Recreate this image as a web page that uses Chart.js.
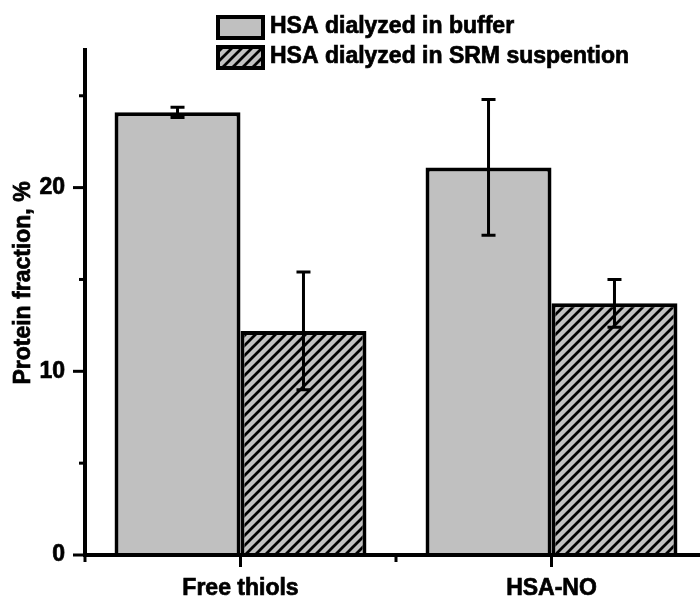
<!DOCTYPE html>
<html>
<head>
<meta charset="utf-8">
<script src="https://cdn.jsdelivr.net/npm/chart.js@4/dist/chart.umd.min.js"></script>
<style>
  html, body { margin: 0; padding: 0; background: #fff; overflow: hidden; }
  #wrap { width: 700px; height: 597px; overflow: hidden; }
</style>
</head>
<body>
<div id="wrap"><canvas id="chart" width="710" height="597"></canvas></div>
<script>
// data
const categories = ['Free thiols', 'HSA-NO'];
const seriesNames = ['HSA dialyzed in buffer', 'HSA dialyzed in SRM suspention'];
const bufferValues = [24.1, 21.1];
const bufferErrors = [0.28, 3.7];
const srmValues = [12.2, 13.7];
const srmErrors = [3.2, 1.3];
const yMajorTicks = [0, 10, 20];
const yMinorTicks = [5, 15, 25];

const FAMILY = '"Liberation Sans", Arial, sans-serif';
const FONT = 'bold 23px ' + FAMILY;

function makeHatch() {
  const c = document.createElement('canvas');
  c.width = 10; c.height = 10;
  const g = c.getContext('2d');
  g.fillStyle = '#c0c0c0';
  g.fillRect(0, 0, 10, 10);
  g.strokeStyle = '#000';
  g.lineWidth = 2.8;
  g.beginPath();
  g.moveTo(-2, 12); g.lineTo(12, -2);
  g.moveTo(-7, 7); g.lineTo(7, -7);
  g.moveTo(3, 17); g.lineTo(17, 3);
  g.stroke();
  return c;
}

const ctx = document.getElementById('chart').getContext('2d');
const hatch = ctx.createPattern(makeHatch(), 'repeat');

const errors = [bufferErrors, srmErrors];

function boldText(c, s, x, y) {
  c.fillText(s, x, y);
  c.lineWidth = 0.7;
  c.strokeText(s, x, y);
}

const extrasPlugin = {
  id: 'extras',
  afterDatasetsDraw(chart) {
    const c = chart.ctx;
    const y = chart.scales.y, x = chart.scales.x;
    const area = chart.chartArea;
    c.save();
    c.strokeStyle = '#000';
    c.lineWidth = 3;
    // error bars
    chart.data.datasets.forEach((ds, di) => {
      const meta = chart.getDatasetMeta(di);
      meta.data.forEach((bar, i) => {
        const v = ds.data[i], e = errors[di][i];
        const top = y.getPixelForValue(v + e), bot = y.getPixelForValue(v - e);
        c.beginPath();
        c.moveTo(bar.x, top); c.lineTo(bar.x, bot);
        c.moveTo(bar.x - 7, top); c.lineTo(bar.x + 7, top);
        c.moveTo(bar.x - 7, bot); c.lineTo(bar.x + 7, bot);
        c.stroke();
      });
    });
    // y ticks (outside)
    yMajorTicks.forEach(t => {
      const p = y.getPixelForValue(t);
      c.beginPath(); c.moveTo(area.left - 12, p); c.lineTo(area.left, p); c.stroke();
    });
    yMinorTicks.forEach(t => {
      const p = y.getPixelForValue(t);
      c.beginPath(); c.moveTo(area.left - 6, p); c.lineTo(area.left, p); c.stroke();
    });
    // x ticks (outside)
    categories.forEach((cat, i) => {
      const p = x.getPixelForValue(i);
      c.beginPath(); c.moveTo(p, area.bottom); c.lineTo(p, area.bottom + 12); c.stroke();
    });
    for (let i = 0; i <= categories.length; i++) {
      const p = x.getPixelForValue(i - 0.5);
      c.beginPath(); c.moveTo(p, area.bottom); c.lineTo(p, area.bottom + 7); c.stroke();
    }
    // axis lines
    c.lineWidth = 4;
    c.beginPath();
    c.moveTo(area.left, area.top); c.lineTo(area.left, area.bottom);
    c.moveTo(area.left - 2, area.bottom); c.lineTo(area.right + 10, area.bottom);
    c.stroke();
    // legend
    const fills = ['#c0c0c0', hatch];
    c.font = FONT;
    c.textBaseline = 'alphabetic';
    c.textAlign = 'left';
    seriesNames.forEach((name, i) => {
      const by = 17 + i * 30;
      c.fillStyle = fills[i];
      c.fillRect(218, by, 45, 21);
      c.lineWidth = 4;
      c.strokeRect(218, by, 45, 21);
      c.fillStyle = '#000';
      boldText(c, name, 270, by + 16);
    });
    // y title
    c.save();
    c.translate(30, 283);
    c.rotate(-Math.PI / 2);
    c.textAlign = 'center';
    boldText(c, 'Protein fraction, %', 0, 0);
    c.restore();
    c.restore();
  }
};

const tickFont = { family: FAMILY, size: 23, weight: 'bold' };

new Chart(ctx, {
  type: 'bar',
  data: {
    labels: categories,
    datasets: [
      { label: seriesNames[0], data: bufferValues, backgroundColor: '#c0c0c0',
        borderColor: '#000', borderWidth: 4 },
      { label: seriesNames[1], data: srmValues, backgroundColor: hatch,
        borderColor: '#000', borderWidth: 4 }
    ]
  },
  options: {
    responsive: false,
    devicePixelRatio: 1,
    animation: false,
    layout: { padding: { top: 48, right: 3, left: 0, bottom: 0 } },
    categoryPercentage: 0.81,
    barPercentage: 1,
    plugins: { legend: { display: false }, tooltip: { enabled: false } },
    scales: {
      x: {
        grid: { display: false },
        border: { display: false },
        ticks: { color: '#000', font: tickFont, padding: 12,
          textStrokeColor: '#000', textStrokeWidth: 0.7 },
        afterFit(s) { s.height = 42; }
      },
      y: {
        min: 0, max: 27.6,
        grid: { display: false },
        border: { display: false },
        ticks: {
          stepSize: 5, color: '#000', padding: 12,
          font: tickFont, textStrokeColor: '#000', textStrokeWidth: 0.7,
          callback: v => yMajorTicks.includes(v) ? String(v) : ''
        },
        afterFit(s) { s.width = 85; }
      }
    }
  },
  plugins: [extrasPlugin]
});
</script>
</body>
</html>
